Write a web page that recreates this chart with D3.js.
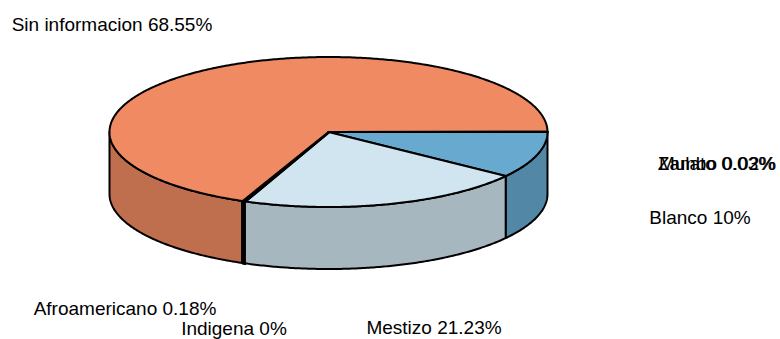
<!DOCTYPE html>
<html><head><meta charset="utf-8">
<script src="https://cdn.jsdelivr.net/npm/d3@7/dist/d3.min.js"></script>
<style>html,body{margin:0;padding:0;background:#fff}svg{display:block}text{font-family:"Liberation Sans",Arial,sans-serif;font-size:19px;fill:#000}</style>
</head><body><svg id="c" width="780" height="339"></svg>
<script>
const categories = ["Blanco","Mestizo","Indigena","Afroamericano","Sin informacion","Mulato","Zambo"];
const percents = [10,21.23,0,0.18,68.55,0.03,0.01];
const labelTexts = ["10%","21.23%","0%","0.18%","68.55%","0.03%","0.02%"];
const topColors = ["#67a9cf","#d1e5f0","#f7f7f7","#fddbc7","#ef8a62","#2166ac","#b2182b"];
const labelCenterX = [700,434,234,125,112,717,717];
const labelCenterY = [217,327,328,308,24,163,163];

const W=780,H=339,cx=328.5,cy=132,rx=219,ry=75,depth=62;
const svg=d3.select("#c");
const slices=d3.pie().sort(null).value(d=>d).startAngle(0).endAngle(2*Math.PI)(percents);
const X=d3.scaleLinear().domain([-1,1]).range([cx-rx,cx+rx]);
const Y=d3.scaleLinear().domain([-1,1]).range([cy-ry,cy+ry]);
const line=d3.line().x(d=>X(Math.cos(d))).y(d=>Y(Math.sin(d)));
const samples=(a,b)=>{const n=Math.max(2,Math.ceil((b-a)/0.01));return d3.range(n+1).map(i=>a+(b-a)*i/n);};
const edgeWidth=(s)=>(s.endAngle-s.startAngle<0.05 && s.startAngle<Math.PI)?3.2:2;

const sideG=svg.append("g"),topG=svg.append("g");
const front=slices.map((s,i)=>({i,s,a:s.startAngle,b:Math.min(s.endAngle,Math.PI)})).filter(s=>s.a<Math.PI);
front.sort((p,q)=>{const d=t=>Math.abs((t.a+t.b)/2-Math.PI/2);return d(q)-d(p);});
front.forEach(f=>{
  const pts=samples(f.a,f.b);
  const top=line(pts);
  const bottom=d3.line().x(d=>X(Math.cos(d))).y(d=>Y(Math.sin(d))+depth)(pts.slice().reverse());
  const c=d3.rgb(topColors[f.i]);
  sideG.append("path").attr("d",top+"L"+bottom.slice(1)+"Z")
    .attr("fill",d3.rgb(c.r*0.8,c.g*0.8,c.b*0.8))
    .attr("stroke","#000").attr("stroke-width",edgeWidth(f.s)).attr("stroke-linejoin","round");
});
slices.forEach((s,i)=>{
  const pts=samples(s.startAngle,s.endAngle);
  topG.append("path").attr("d",`M${X(0)},${Y(0)}L`+line(pts).slice(1)+"Z")
    .attr("fill",topColors[i]).attr("stroke","#000").attr("stroke-width",edgeWidth(s)).attr("stroke-linejoin","round");
});
categories.forEach((c,i)=>{
  svg.append("text").attr("x",labelCenterX[i]).attr("y",labelCenterY[i]).attr("text-anchor","middle")
   .attr("dominant-baseline","central").text(c+" "+labelTexts[i]);
});
</script></body></html>
